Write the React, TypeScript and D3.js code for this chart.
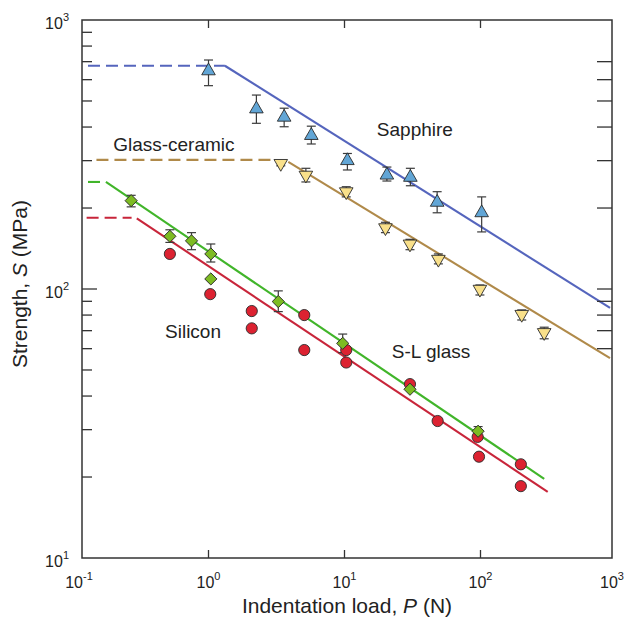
import * as d3 from "d3";

const W = 630;
const H = 625;
const FONT = "'Liberation Sans', Arial, Helvetica, sans-serif";
// axis frame box (the plotted decades run a little past it on the x side)
const FRAME = { left: 82, right: 612, top: 20, bottom: 558 };

// Sapphire (triangles up)
const sapphireP = [1, 2.25, 3.6, 5.7, 10.5, 20.5, 30.5, 48, 102];
const sapphireS = [647, 467, 435, 372, 300, 265, 260, 210, 192];
const sapphireHi = [710, 526, 470, 403, 319, 284, 281, 230, 220];
const sapphireLo = [570, 413, 401, 346, 277, 252, 242, 192, 163];

// Glass-ceramic (triangles down)
const ceramicP = [3.4, 5.2, 10.3, 20, 30.3, 49, 99, 201, 294];
const ceramicS = [293, 265, 230, 169, 147, 129, 99.8, 80.5, 68.9];
const ceramicHi = [300, 281, 240, 177, 153, 135, 103.5, 83.6, 72.1];
const ceramicLo = [287, 250, 220, 162, 140, 124, 95, 76.7, 65.3];

// S-L glass (diamonds)
const glassP = [0.27, 0.52, 0.75, 1.04, 1.04, 3.26, 9.7, 30.3, 96];
const glassS = [213, 157, 151, 135, 109, 89.8, 62.8, 42.4, 29.6];
const glassHi = [223, 166, 162, 147, null, 98.4, 68, null, 30.8];
const glassLo = [202, 149, 140, 126, null, 82.4, 58, null, 28.4];

// Silicon (circles)
const siliconP = [0.52, 1.03, 2.08, 2.08, 5.06, 5.06, 10.3, 10.3, 30.3, 48.4, 95.3, 97.5, 198, 198];
const siliconS = [135, 95.7, 82.8, 71.4, 80, 59.3, 59.3, 53.3, 44.3, 32.3, 28.2, 23.8, 22.3, 18.5];

// fitted lines: dashed plateau then solid P^-1/3 branch
const sapphireFlatP = [0.13, 1.32];
const sapphireFlatS = [676, 676];
const sapphireFitP = [1.32, 896];
const sapphireFitS = [676, 85];

const ceramicFlatP = [0.15, 2.9];
const ceramicFlatS = [302, 302];
const ceramicFitP = [3.86, 896];
const ceramicFitS = [297, 55.3];

const glassFlatP = [0.13, 0.176];
const glassFlatS = [250, 250];
const glassFitP = [0.176, 294];
const glassFitS = [250, 19.7];

const siliconFlatP = [0.127, 0.272];
const siliconFlatS = [184, 184];
const siliconFitP = [0.297, 312];
const siliconFitS = [183, 17.6];

const xTickExps = [-1, 0, 1, 2, 3];
const yTickExps = [1, 2, 3];
const rightTicks = [60, 70, 80, 90, 100, 200, 300, 400, 500, 600, 700];

const series = [
  {
    name: "sapphire", P: sapphireP, S: sapphireS, hi: sapphireHi, lo: sapphireLo,
    shape: "up", fill: "#62a6d6", line: "#5565bd",
    flat: [sapphireFlatP, sapphireFlatS], fit: [sapphireFitP, sapphireFitS],
  },
  {
    name: "ceramic", P: ceramicP, S: ceramicS, hi: ceramicHi, lo: ceramicLo,
    shape: "down", fill: "#f9e08a", line: "#b08a4a",
    flat: [ceramicFlatP, ceramicFlatS], fit: [ceramicFitP, ceramicFitS],
  },
  {
    name: "silicon", P: siliconP, S: siliconS, hi: null, lo: null,
    shape: "circle", fill: "#dc2231", line: "#c8253a",
    flat: [siliconFlatP, siliconFlatS], fit: [siliconFitP, siliconFitS],
  },
  {
    name: "glass", P: glassP, S: glassS, hi: glassHi, lo: glassLo,
    shape: "diamond", fill: "#7dbb22", line: "#41b52a",
    flat: [glassFlatP, glassFlatS], fit: [glassFitP, glassFitS],
  },
];

// label anchors in data units (left edge of text, baseline)
const labels = [
  { text: "Sapphire", P: 17.3, S: 371 },
  { text: "Glass-ceramic", P: 0.199, S: 326 },
  { text: "Silicon", P: 0.479, S: 65.8 },
  { text: "S-L glass", P: 22.3, S: 55.3 },
];

const x = d3.scaleLog().domain([0.1, 1000]).range([72.5, 616.5]);
const y = d3.scaleLog().domain([10, 1000]).range([FRAME.bottom, FRAME.top]);

const line = d3
  .line<[number, number]>()
  .x((d) => x(d[0]))
  .y((d) => y(d[1]));

const zip = (a: number[], b: number[]) => a.map((v, i) => [v, b[i]] as [number, number]);

const triPath = d3.symbol(d3.symbolTriangle, 80)()!;
const squarePath = d3.symbol(d3.symbolSquare, 74)()!;

function Marker({ shape, cx, cy, fill }: { shape: string; cx: number; cy: number; fill: string }) {
  const common = { fill, stroke: "#2a2a2a", strokeWidth: 0.9 };
  if (shape === "circle") return <circle cx={cx} cy={cy} r={5.6} {...common} />;
  if (shape === "up") return <path d={triPath} transform={`translate(${cx},${cy})`} {...common} />;
  if (shape === "down")
    return <path d={triPath} transform={`translate(${cx},${cy}) rotate(180)`} {...common} />;
  return <path d={squarePath} transform={`translate(${cx},${cy}) rotate(45)`} {...common} />;
}

function Pow({ px, py, exp, anchor }: { px: number; py: number; exp: number; anchor: string }) {
  return (
    <text x={px} y={py} textAnchor={anchor} fontFamily={FONT} fontSize={16} fill="#222">
      <tspan>10</tspan>
      <tspan fontSize={11} dy={-8}>{exp}</tspan>
    </text>
  );
}

export default function App() {
  const leftMinor = [10, 100].flatMap((dec) => d3.range(2, 10).map((k) => k * dec));

  return (
    <svg width={W} height={H} style={{ position: "absolute", left: 0, top: 0, background: "#fff" }}>
      <rect width={W} height={H} fill="#fff" />

      {/* fitted lines */}
      {series.map((s) => (
        <g key={s.name + "-lines"} fill="none" stroke={s.line} strokeWidth={2.1}>
          <path d={line(zip(s.flat[0], s.flat[1]))!} strokeDasharray="12 6" />
          <path d={line(zip(s.fit[0], s.fit[1]))!} />
        </g>
      ))}

      {/* error bars */}
      {series.map((s) =>
        s.hi
          ? s.P.map((p, i) => {
              const hi = s.hi![i];
              const lo = s.lo![i];
              if (hi == null || lo == null) return null;
              const cx = x(p);
              return (
                <g key={s.name + "-err-" + i} stroke="#3a3a3a" strokeWidth={1.2}>
                  <line x1={cx} x2={cx} y1={y(hi)} y2={y(lo)} />
                  <line x1={cx - 4.5} x2={cx + 4.5} y1={y(hi)} y2={y(hi)} />
                  <line x1={cx - 4.5} x2={cx + 4.5} y1={y(lo)} y2={y(lo)} />
                </g>
              );
            })
          : null
      )}

      {/* markers */}
      {series.map((s) =>
        s.P.map((p, i) => (
          <Marker key={s.name + "-m-" + i} shape={s.shape} cx={x(p)} cy={y(s.S[i])} fill={s.fill} />
        ))
      )}

      {/* frame */}
      <rect
        x={FRAME.left}
        y={FRAME.top}
        width={FRAME.right - FRAME.left}
        height={FRAME.bottom - FRAME.top}
        fill="none"
        stroke="#333"
        strokeWidth={1.5}
      />

      {/* ticks */}
      <g stroke="#333" strokeWidth={1.3}>
        {leftMinor.map((v) => (
          <line key={"lm" + v} x1={FRAME.left} x2={FRAME.left + 10} y1={y(v)} y2={y(v)} />
        ))}
        <line x1={FRAME.left} x2={FRAME.left + 15} y1={y(100)} y2={y(100)} />
        {rightTicks.map((v) => (
          <line key={"rt" + v} x1={FRAME.right - 15} x2={FRAME.right} y1={y(v)} y2={y(v)} />
        ))}
        {[1, 10, 100].map((v) => (
          <g key={"xt" + v}>
            <line x1={x(v)} x2={x(v)} y1={FRAME.bottom} y2={FRAME.bottom - 8} />
            <line x1={x(v)} x2={x(v)} y1={FRAME.top} y2={FRAME.top + 8} />
          </g>
        ))}
      </g>

      {/* tick labels */}
      {xTickExps.map((e) => {
        const px =
          e === -1 ? FRAME.left - 3 : e === 3 ? FRAME.right : x(Math.pow(10, e));
        return <Pow key={"xl" + e} px={px} py={FRAME.bottom + 30} exp={e} anchor="middle" />;
      })}
      {yTickExps.map((e) => (
        <Pow key={"yl" + e} px={FRAME.left - 13} py={y(Math.pow(10, e)) + 9} exp={e} anchor="end" />
      ))}

      {/* series labels */}
      {labels.map((l) => (
        <text key={l.text} x={x(l.P)} y={y(l.S)} fontFamily={FONT} fontSize={19} fill="#222">
          {l.text}
        </text>
      ))}

      {/* axis titles */}
      <text
        x={(FRAME.left + FRAME.right) / 2}
        y={613}
        textAnchor="middle"
        fontFamily={FONT}
        fontSize={21}
        fill="#222"
      >
        Indentation load, <tspan fontStyle="italic">P</tspan> (N)
      </text>
      <text
        transform={`translate(27,${(FRAME.top + FRAME.bottom) / 2 - 5}) rotate(-90)`}
        textAnchor="middle"
        fontFamily={FONT}
        fontSize={21}
        fill="#222"
      >
        Strength, <tspan fontStyle="italic">S</tspan> (MPa)
      </text>
    </svg>
  );
}
